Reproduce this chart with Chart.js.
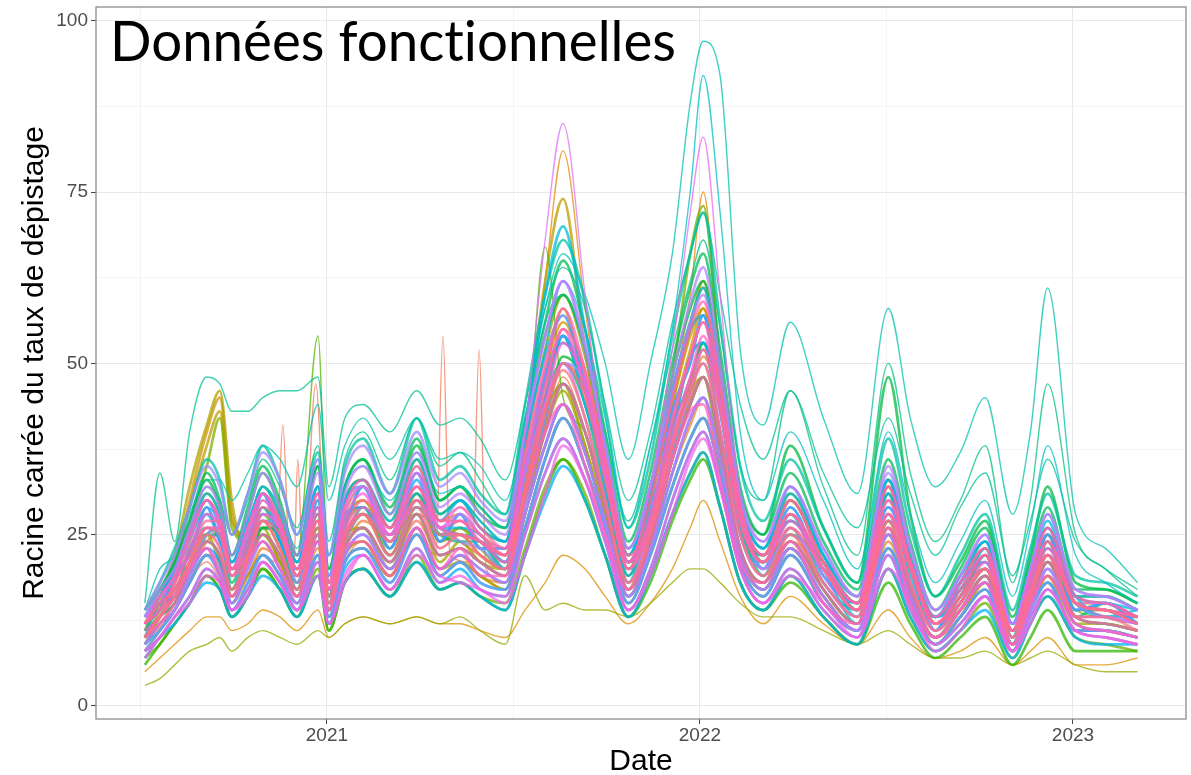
<!DOCTYPE html>
<html><head><meta charset="utf-8">
<script src="https://cdn.jsdelivr.net/npm/chart.js@4.4.1/dist/chart.umd.min.js"></script>
<style>
html,body{margin:0;padding:0;background:#fff;}
#wrap{position:relative;width:1191px;height:775px;overflow:hidden;}
canvas{position:absolute;left:0;top:0;}
#title{position:absolute;left:110px;top:12px;font-family:Lato,'Open Sans',sans-serif;font-size:56px;line-height:1;color:#000;white-space:nowrap;transform-origin:0 0;display:inline-block;font-variant-ligatures:none;font-feature-settings:"liga" 0,"clig" 0;}
</style></head><body>
<div id="wrap"><canvas id="c" width="1191" height="775"></canvas><div id="title">Données fonctionnelles</div></div>
<script>
// time in decimal years
const years = [2020.512,2020.552,2020.592,2020.632,2020.678,2020.713,2020.745,2020.788,2020.828,2020.874,2020.920,2020.976,
 2021.005,2021.048,2021.097,2021.169,2021.241,2021.303,2021.357,2021.411,2021.478,2021.531,2021.585,2021.633,
 2021.692,2021.746,2021.808,2021.867,2021.926,2021.974,2022.009,2022.054,2022.108,2022.170,2022.242,2022.331,
 2022.422,2022.505,2022.564,2022.631,2022.698,2022.765,2022.838,2022.886,2022.932,2023.007,2023.087,2023.173];

const d00 = [10,13,15,20,24,22,17,21,25,22,17,25, 15,23,26,21,27,22,23,21,19,30,41,47, 40,29,17,24,36,44,48,38,23,18,24,17, 12,26,17,10,14,19,9,15,21,13,12,11];
const orangeYears = [2020.512,2020.592,2020.678,2020.745,2020.828,2020.863,2020.882,2020.901,2020.911,2020.922,2020.936,2020.970,
 2021.005,2021.048,2021.097,2021.169,2021.241,2021.292,2021.311,2021.330,2021.389,2021.408,2021.427,2021.478,
 2021.531,2021.585,2021.633,2021.692,2021.746,2021.808,2021.867,2021.926,2021.974,2022.009,2022.054,2022.108,
 2022.170,2022.242,2022.331,2022.422,2022.505,2022.564,2022.631,2022.698,2022.765,2022.838,2022.932,2023.007,2023.087,2023.173];
const orangeVals = [9,14,21,16,22,21,41,20,20,36,19,47, 13,21,24,20,25,22,54,22,21,52,20,18, 28,40,48,40,28,17,24,36,45,48,38,23, 18,25,17,12,26,17,10,14,19,9,21,13,12,11];
const d02 = [12,15,18,23,28,25,19,24,29,25,19,30, 17,27,30,24,32,25,27,24,22,38,62,81, 58,38,21,30,45,60,75,50,28,22,30,21, 15,32,21,13,18,23,11,19,26,16,15,13];
const d03 = [5,7,9,11,13,13,11,12,14,13,11,14, 10,12,13,12,13,12,12,11,10,14,18,22, 20,16,12,15,20,26,30,24,16,12,16,12, 9,14,10,7,8,10,6,8,10,6,6,7];
const d04 = [10,14,20,30,40,45,28,24,27,23,18,27, 16,25,28,22,30,24,25,22,20,32,48,58, 46,33,19,28,42,52,58,44,26,21,28,20, 14,31,20,12,16,22,10,17,24,14,14,12];
const d05 = [11,15,21,29,38,43,27,25,29,25,19,29, 17,27,30,24,31,25,26,24,22,40,62,74, 52,36,21,30,44,55,62,46,28,22,30,21, 15,33,21,13,17,23,11,18,25,15,14,13];
const d06 = [12,16,22,32,41,46,30,22,25,21,16,24, 14,22,24,19,26,20,21,19,17,28,40,46, 38,28,16,24,36,44,48,38,22,17,23,16, 11,25,16,9,13,18,8,14,19,11,11,10];
const d07 = [3,4,6,8,9,10,8,10,11,10,9,11, 10,12,13,12,13,12,13,11,9,19,14,15, 14,14,13,15,18,20,20,18,15,13,13,11, 9,11,9,7,7,8,6,7,8,6,5,5];
const d08 = [9,13,18,26,35,42,26,24,28,24,18,28, 16,26,29,23,31,24,26,23,20,34,47,54, 46,34,20,30,48,66,73,50,28,22,30,21, 14,32,20,12,16,22,10,17,24,15,14,13];
const d09 = [10,13,16,21,26,24,19,24,30,27,22,54, 18,30,33,27,35,28,30,27,24,35,67,45, 40,30,19,27,40,48,52,40,25,20,28,20, 14,30,20,12,16,21,10,17,23,14,13,12];
const d10 = [6,9,12,15,19,17,13,16,20,17,13,19, 11,18,20,16,21,17,18,16,14,22,31,36, 30,22,13,18,27,33,36,29,18,14,18,13, 9,18,12,7,10,13,6,10,14,8,8,8];
const d11 = [13,17,21,27,33,29,22,28,34,29,22,35, 20,32,36,28,38,30,32,28,26,40,54,60, 52,38,23,32,48,58,62,50,31,25,38,26, 18,48,28,16,21,27,13,22,32,18,17,15];
const d12 = [11,15,16,23,25,25,18,24,26,25,20,26, 18,24,29,22,29,25,24,24,20,31,45,50, 44,31,20,26,41,47,53,40,27,19,28,18, 14,28,20,11,17,20,11,16,24,13,15,12];
const d13 = [12,16,20,26,32,30,25,30,36,32,26,38, 24,36,40,33,42,35,37,33,28,42,56,60, 52,40,27,38,52,62,68,55,35,30,46,32, 22,50,34,24,30,38,18,30,47,25,20,16];
const d14 = [15,34,24,40,48,47,43,43,45,46,46,48, 32,42,44,40,46,41,42,39,33,44,58,64, 58,44,30,40,56,66,72,60,44,36,46,34, 26,42,31,22,29,34,19,27,36,24,20,17];
const d15 = [14,20,22,28,33,33,30,34,38,36,32,44, 30,38,42,36,42,36,37,35,30,42,58,66, 60,50,36,50,66,88,97,92,52,41,56,42, 31,58,42,32,37,45,28,40,61,28,23,18];
const d16 = [13,16,19,24,29,27,22,27,32,29,23,36, 22,32,35,30,37,31,32,29,26,38,52,62, 55,42,26,38,55,75,92,72,40,30,40,30, 20,40,28,18,24,30,16,26,38,22,18,15];
const d17 = [13,16,20,25,31,28,21,26,32,28,21,32, 19,30,33,27,36,28,30,27,24,40,60,70, 55,38,22,31,46,56,61,48,30,23,31,22, 16,33,22,13,18,24,12,20,27,16,16,14];
const d18 = [12,14,19,22,28,24,20,23,29,24,20,28, 16,28,29,25,31,26,26,25,21,35,45,54, 44,34,19,29,40,51,53,44,26,22,27,21, 13,31,19,13,16,23,10,19,23,16,13,14];
const d19 = [7,10,12,15,18,17,13,16,19,17,13,19, 12,18,20,16,21,17,18,16,14,22,30,35, 30,22,13,19,28,34,37,29,18,14,19,13, 9,20,13,8,11,14,7,12,16,10,9,9];
const d20 = [9,12,14,19,23,21,15,20,24,20,15,24, 14,22,25,20,26,20,22,20,18,28,38,44, 37,27,16,23,34,42,45,36,22,17,23,16, 11,25,16,10,14,18,9,14,20,12,11,10];
const d21 = [13,15,19,22,29,24,20,25,28,26,18,30, 18,26,32,23,34,24,28,23,23,34,48,54, 47,33,21,27,43,50,57,43,28,20,29,19, 15,29,21,11,18,21,12,17,25,14,15,12];
const d22 = [8,11,14,18,22,19,14,18,22,19,14,22, 13,21,23,18,25,19,21,18,17,26,36,42, 35,26,15,22,32,39,42,34,21,16,22,15, 11,23,15,9,13,17,8,14,18,11,11,10];
const d23 = [14,18,22,29,35,32,25,31,37,33,25,36, 22,34,38,31,40,32,34,30,27,40,54,62, 52,38,23,32,46,56,60,48,30,24,32,23, 16,34,23,14,19,25,12,20,28,17,16,14];
const d24 = [13,16,19,25,30,27,20,26,31,27,20,31, 18,29,32,25,34,26,28,25,22,34,44,50, 42,30,18,26,38,46,50,40,25,19,26,18, 13,28,18,11,15,20,10,16,22,13,13,12];
const d25 = [10,13,16,21,26,23,17,22,27,23,17,27, 15,25,28,22,30,23,25,22,20,40,68,85, 60,36,20,27,40,48,52,41,25,20,28,19, 13,28,18,11,15,20,10,16,22,13,13,12];
const d26 = [12,15,19,24,30,26,20,25,31,26,20,31, 18,28,32,25,34,26,29,25,23,36,49,57, 48,35,21,32,52,72,83,60,30,22,30,21, 15,32,21,13,18,23,11,19,26,15,15,13];
const d27 = [8,10,13,16,20,18,14,17,21,18,14,21, 12,19,22,17,23,18,19,17,16,25,34,39, 33,24,14,20,30,37,40,32,20,15,20,14, 10,22,14,9,12,16,8,13,17,11,10,9];
const d28 = [11,13,17,21,26,26,20,22,28,26,19,27, 17,25,29,25,30,26,25,24,21,31,44,53, 47,35,21,26,39,48,54,44,28,21,27,20, 14,28,21,12,15,21,11,16,23,15,14,12];
const d29 = [12,16,19,25,30,27,20,26,31,27,20,31, 18,29,33,26,35,27,29,26,23,37,50,58, 49,36,21,30,45,55,59,47,29,22,30,21, 15,32,21,13,18,23,11,19,26,16,15,13];
const d30 = [10,12,15,20,24,22,16,21,25,22,16,25, 14,23,26,21,28,22,23,21,19,30,40,47, 40,29,17,24,36,44,48,38,23,18,24,17, 12,26,17,10,14,19,9,15,21,13,12,11];
const d31 = [12,15,17,21,26,25,19,22,27,25,19,27, 16,25,28,24,30,25,25,24,22,31,43,50, 45,33,20,26,38,47,52,43,27,21,26,20, 14,28,20,12,16,20,11,17,22,15,14,12];

const e01 = [10,12,15,19,24,25,20,21,26,25,19,24, 17,23,27,25,28,26,24,22,20,28,41,50, 46,35,21,25,36,45,51,44,29,20,24,20, 14,25,21,12,14,19,11,15,21,15,13,12];
const e02 = [9,12,14,18,22,21,16,19,23,21,16,23, 14,22,24,19,26,20,22,19,18,28,38,44, 37,27,16,23,34,41,45,35,22,17,23,16, 11,24,16,10,13,18,9,14,19,12,11,10];
const e03 = [12,15,19,24,30,27,20,25,31,27,20,31, 18,28,32,25,34,27,28,25,23,36,49,56, 48,35,21,30,44,54,58,46,28,22,30,21, 15,32,21,13,18,23,11,19,25,15,15,13];
const e04 = [8,11,14,18,22,20,15,19,22,19,15,22, 13,21,23,19,25,19,21,19,17,26,36,42, 35,26,15,22,32,39,42,34,21,16,22,15, 11,23,15,9,13,17,8,14,18,11,11,10];
const e05 = [10,13,17,21,25,21,17,22,26,21,17,26, 16,25,26,20,28,21,24,21,20,33,43,47, 38,27,17,27,39,46,48,36,22,18,26,17, 12,27,16,10,15,20,9,16,21,12,12,11];
const e06 = [13,16,20,25,31,28,21,26,32,28,21,32, 18,30,33,26,36,28,30,26,24,38,52,60, 51,37,22,31,46,56,61,48,30,23,31,22, 16,33,22,13,18,24,12,20,26,16,16,14];
const e07 = [7,9,12,15,19,17,13,16,20,17,13,20, 11,18,20,16,22,17,18,16,15,23,32,36, 31,22,13,19,28,34,37,29,18,14,19,13, 9,20,13,8,11,15,7,12,16,10,9,8];
const e08 = [11,13,16,20,25,26,20,21,26,26,19,25, 18,24,28,25,29,26,25,24,21,30,42,51, 47,35,21,25,37,47,53,45,29,21,25,21, 14,27,21,12,15,20,11,16,22,15,14,12];
const e09 = [14,17,21,27,34,30,22,29,35,30,22,35, 20,32,36,29,39,30,32,29,26,41,56,65, 55,40,24,34,50,61,66,52,32,25,34,24, 17,36,24,14,20,26,12,21,29,17,17,15];
const e10 = [10,13,15,20,24,22,16,21,25,22,16,25, 14,23,26,21,28,22,23,21,19,30,40,47, 40,29,17,24,36,44,48,38,23,18,24,17, 12,26,17,10,14,19,9,15,21,13,12,11];
const e11 = [14,18,23,29,36,33,25,31,38,33,25,37, 22,35,39,31,42,33,35,31,28,44,60,68, 59,43,26,36,54,66,72,56,35,27,36,26, 18,39,26,16,22,28,14,23,31,19,18,16];
const e12 = [10,15,16,23,26,25,17,24,27,25,17,30, 15,27,29,24,30,25,25,24,20,34,45,54, 44,34,18,28,40,51,53,44,25,21,27,20, 12,31,18,13,15,22,9,18,22,15,13,13];
const e13 = [9,11,14,18,22,19,14,18,22,19,14,22, 13,21,23,18,25,19,21,18,17,26,36,42, 35,26,15,22,32,39,42,34,21,16,22,15, 11,23,15,9,13,17,8,14,18,11,11,10];
const e14 = [13,16,20,25,30,26,21,27,31,26,21,32, 19,30,32,26,34,27,30,26,24,39,51,57, 47,35,22,32,46,55,57,44,29,23,32,22, 15,33,21,13,19,24,12,20,26,16,15,14];
const e15 = [8,10,13,16,20,18,14,17,21,18,14,21, 12,20,22,17,23,18,20,17,16,25,34,39, 33,24,14,20,30,37,40,32,20,15,20,14, 10,22,14,9,12,16,8,13,17,11,10,9];
const e16 = [12,14,19,22,29,24,20,23,31,24,20,29, 18,26,32,23,33,24,28,23,23,34,48,53, 47,32,21,27,43,50,57,43,28,20,29,19, 15,29,21,11,18,21,12,17,25,14,15,12];
const e17 = [10,13,16,20,25,26,19,21,27,26,18,25, 17,24,28,25,29,26,24,23,20,29,42,50, 47,34,20,25,37,46,52,44,28,20,25,20, 14,27,21,11,15,20,11,16,22,15,13,12];
const e18 = [13,17,20,26,32,29,22,28,34,29,22,34, 19,31,35,28,37,29,31,28,25,40,54,62, 53,38,23,32,48,59,64,50,31,24,32,23, 16,35,23,14,19,25,12,20,28,17,16,14];
const e19 = [9,12,14,19,23,20,15,20,24,20,15,24, 14,22,25,20,26,20,22,20,18,28,38,44, 37,27,16,23,34,42,45,36,22,17,23,16, 11,25,16,10,14,18,9,14,20,12,11,10];
const e20 = [7,10,13,15,19,18,14,16,21,18,14,19, 12,18,22,17,22,19,18,17,15,22,31,38, 33,25,14,19,28,36,39,32,20,15,19,15, 10,20,15,8,11,16,8,12,17,11,10,9];
const e21 = [12,14,18,23,28,26,19,24,30,26,19,29, 17,27,31,24,32,26,27,24,22,35,47,55, 46,34,20,28,42,51,56,44,27,21,28,20, 14,30,20,12,17,22,11,18,24,15,14,13];
const e22 = [10,13,16,20,23,19,16,21,24,20,16,24, 14,23,24,19,26,20,23,19,19,31,40,44, 35,25,17,25,36,43,44,33,21,18,24,15, 12,26,15,10,14,18,9,15,19,12,11,10];
const e23 = [12,14,18,22,27,27,20,23,29,27,20,28, 18,26,30,26,32,27,27,25,22,32,46,55, 49,36,22,27,41,51,56,46,29,22,28,21, 15,30,21,12,16,22,11,17,24,15,14,13];
const e24 = [10,13,16,21,25,23,17,22,27,23,17,26, 15,24,28,22,29,23,25,22,20,31,43,49, 42,30,18,25,38,46,50,40,25,19,25,18, 13,27,18,11,15,20,10,16,22,13,13,11];

const xTickLabels = {2021:'2021', 2022:'2022', 2023:'2023'};
const yTickLabels = {0:'0', 25:'25', 50:'50', 75:'75', 100:'100'};

// drawing order = palette order (first at the bottom, last on top)
const curves = [
  [years,d00],[orangeYears,orangeVals],[years,e01],[years,e02],[years,d02],[years,d03],[years,e03],[years,d04],
  [years,e04],[years,d05],[years,d06],[years,e05],[years,d07],[years,e06],[years,d08],[years,e07],
  [years,d09],[years,d10],[years,e08],[years,d11],[years,e09],[years,d12],[years,e10],[years,d13],
  [years,d14],[years,e11],[years,d15],[years,e12],[years,d16],[years,e13],[years,d17],[years,d18],
  [years,e14],[years,d19],[years,e15],[years,d20],[years,e16],[years,d21],[years,d22],[years,e17],
  [years,d23],[years,e18],[years,d24],[years,e19],[years,d25],[years,d26],[years,e20],[years,d27],
  [years,e21],[years,d28],[years,e22],[years,d29],[years,d30],[years,e23],[years,d31],[years,e24]
];
// curves drawn with a thin stroke (isolated outliers)
const thinCurves = [orangeVals, d02, d03, d07, d09, d13, d14, d15, d16, d25, d26];

// ggplot2 hue palette (HCL, c=100, l=65)
function hcl(h, c, l, a) {
  const hr = h * Math.PI / 180;
  const U = c * Math.cos(hr), V = c * Math.sin(hr);
  const Xn = 95.047, Yn = 100, Zn = 108.883;
  const den = Xn + 15 * Yn + 3 * Zn;
  const un = 4 * Xn / den, vn = 9 * Yn / den;
  const Y = l > 8 ? Yn * Math.pow((l + 16) / 116, 3) : Yn * l / 903.3;
  const u = U / (13 * l) + un, v = V / (13 * l) + vn;
  const X = 9 * Y * u / (4 * v);
  const Z = -X / 3 - 5 * Y + 3 * Y / v;
  const x = X / 100, y = Y / 100, z = Z / 100;
  const r = 3.240479 * x - 1.537150 * y - 0.498535 * z;
  const g = -0.969256 * x + 1.875992 * y + 0.041556 * z;
  const b = 0.055648 * x - 0.204043 * y + 1.057311 * z;
  const gm = t => { t = t <= 0.0031308 ? 12.92 * t : 1.055 * Math.pow(t, 1 / 2.4) - 0.055; return Math.round(255 * Math.min(1, Math.max(0, t))); };
  return `rgba(${gm(r)},${gm(g)},${gm(b)},${a})`;
}

const N = curves.length;
const datasets = curves.map(([t, v], i) => {
  const thin = thinCurves.includes(v);
  return {
    data: t.map((x, k) => ({x: x, y: v[k]})),
    borderColor: hcl(15 + 360 * i / N, 100, 65, thin ? 0.75 : 0.74),
    borderWidth: thin ? 1.4 : 2.7,
    pointRadius: 0,
    fill: false,
    cubicInterpolationMode: 'monotone',
    order: N - i
  };
});

const tickFont = {family: "'Liberation Sans',Arial,sans-serif", size: 19};
const titleFont = {family: "'Liberation Sans',Arial,sans-serif", size: 30};
const isInt = v => Math.abs(v - Math.round(v)) < 1e-6;

const panelBorder = {
  id: 'panelBorder',
  afterDatasetsDraw(chart) {
    const {ctx, chartArea: a} = chart;
    ctx.save();
    ctx.strokeStyle = '#8c8c8c';
    ctx.lineWidth = 1.3;
    ctx.strokeRect(a.left, a.top, a.right - a.left, a.bottom - a.top);
    ctx.restore();
  }
};

new Chart(document.getElementById('c').getContext('2d'), {
  type: 'line',
  data: {datasets},
  options: {
    responsive: false,
    animation: false,
    events: [],
    layout: {padding: {top: 7, right: 5, left: 0, bottom: 0}},
    plugins: {legend: {display: false}, tooltip: {enabled: false}, title: {display: false}},
    scales: {
      x: {
        type: 'linear', min: 2020.381, max: 2023.303,
        afterFit(s) { s.height = 56; s.paddingLeft = 0; s.paddingRight = 0; },
        border: {display: false},
        grid: {
          color: c => (c.tick && isInt(c.tick.value)) ? '#e8e8e8' : '#f4f4f4',
          lineWidth: 1,
          tickLength: 5,
          tickColor: c => (c.tick && isInt(c.tick.value)) ? '#444' : 'rgba(0,0,0,0)'
        },
        ticks: {
          stepSize: 0.5, includeBounds: false, autoSkip: false, maxRotation: 0,
          color: '#4d4d4d', font: tickFont, padding: 0,
          callback: v => xTickLabels[Math.round(v * 2) / 2] || ''
        },
        title: {display: true, text: 'Date', color: '#000', font: titleFont, padding: {top: 0, bottom: -5}}
      },
      y: {
        type: 'linear', min: -1.9, max: 102.0,
        afterFit(s) { s.width = 96; s.paddingTop = 0; s.paddingBottom = 0; },
        border: {display: false},
        grid: {
          color: c => (c.tick && c.tick.value % 25 === 0) ? '#e8e8e8' : '#f4f4f4',
          lineWidth: 1,
          tickLength: 5,
          tickColor: c => (c.tick && c.tick.value % 25 === 0) ? '#444' : 'rgba(0,0,0,0)'
        },
        ticks: {
          stepSize: 12.5, includeBounds: false, autoSkip: false,
          color: '#4d4d4d', font: tickFont, padding: 3,
          callback: v => (v in yTickLabels) ? yTickLabels[v] : ''
        },
        title: {display: true, text: 'Racine carrée du taux de dépistage', color: '#000', font: titleFont, padding: {top: 17, bottom: 0}}
      }
    }
  },
  plugins: [panelBorder]
});

const tEl = document.getElementById('title');
const tw = tEl.getBoundingClientRect().width;
if (tw > 0) tEl.style.transform = 'scaleX(' + (566 / tw).toFixed(4) + ')';
</script>
</body></html>
